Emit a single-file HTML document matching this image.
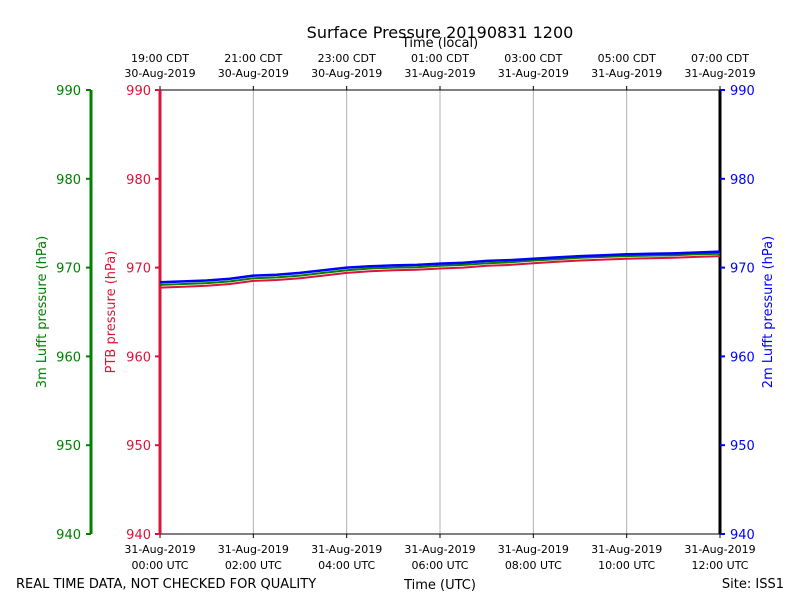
<!DOCTYPE html>
<html><head><meta charset="utf-8"><style>
body{margin:0;background:#fff;}
svg{display:block;font-family:"DejaVu Sans","Liberation Sans",sans-serif;}
</style></head><body>
<svg id="chart" width="800" height="600"></svg>
<script>
const hours=[0,0.5,1,1.5,2,2.5,3,3.5,4,4.5,5,5.5,6,6.5,7,7.5,8,8.5,9,9.5,10,10.5,11,11.5,12];
const ptbValues=[967.75,967.85,967.95,968.15,968.5,968.6,968.8,969.1,969.4,969.6,969.7,969.75,969.9,970.0,970.2,970.3,970.5,970.65,970.8,970.9,971.0,971.05,971.1,971.2,971.3];
const lufft3mValues=[968.05,968.15,968.25,968.45,968.8,968.9,969.1,969.4,969.7,969.9,970.0,970.05,970.2,970.3,970.5,970.6,970.8,970.95,971.1,971.2,971.3,971.35,971.4,971.5,971.55];
const lufft2mValues=[968.35,968.45,968.55,968.75,969.1,969.2,969.4,969.7,970.0,970.15,970.25,970.3,970.45,970.55,970.75,970.85,971.0,971.15,971.3,971.4,971.5,971.55,971.6,971.7,971.8];
const yTicks=[940,950,960,970,980,990];
const xTickHours=[0,2,4,6,8,10,12];
const utcLabels=[["31-Aug-2019","00:00 UTC"],["31-Aug-2019","02:00 UTC"],["31-Aug-2019","04:00 UTC"],["31-Aug-2019","06:00 UTC"],["31-Aug-2019","08:00 UTC"],["31-Aug-2019","10:00 UTC"],["31-Aug-2019","12:00 UTC"]];
const localLabels=[["19:00 CDT","30-Aug-2019"],["21:00 CDT","30-Aug-2019"],["23:00 CDT","30-Aug-2019"],["01:00 CDT","31-Aug-2019"],["03:00 CDT","31-Aug-2019"],["05:00 CDT","31-Aug-2019"],["07:00 CDT","31-Aug-2019"]];

const L=160,R=720,T=90,B=534;
const xs=h=>L+(h/12)*(R-L);
const ys=v=>B-(v-940)/50*(B-T);
const svg=document.getElementById('chart');
const NS='http://www.w3.org/2000/svg';
function mk(tag,attrs,parent){const e=document.createElementNS(NS,tag);for(const k in attrs)e.setAttribute(k,attrs[k]);(parent||svg).appendChild(e);return e;}
function txt(x,y,s,size,fill,anchor,name,rot){const e=mk('text',{x:x,y:y,'font-size':size,fill:fill,'text-anchor':anchor||'middle'});if(rot)e.setAttribute('transform',`rotate(-90 ${x} ${y})`);e.textContent=s;


return e;}

txt(440,38,'Surface Pressure 20190831 1200',16,'#000','middle','chart-title');
txt(440,47,'Time (local)',13,'#000','middle','top-axis-title');
txt(440,589,'Time (UTC)',13,'#000','middle','x-axis-title');
txt(16,588,'REAL TIME DATA, NOT CHECKED FOR QUALITY',13,'#000','start','quality-note');
txt(784,588,'Site: ISS1',13,'#000','end','site-label');

// grid
xTickHours.forEach((h,i)=>{
  if(i>0&&i<xTickHours.length-1){const g=mk('line',{x1:xs(h),x2:xs(h),y1:T,y2:B,stroke:'#b0b0b0','stroke-width':1});
  
  }
  const t1=mk('line',{x1:xs(h),x2:xs(h),y1:B,y2:B+4,stroke:'#000'});
  
  
  const t2=mk('line',{x1:xs(h),x2:xs(h),y1:T,y2:T-4,stroke:'#000'});
  
  
  txt(xs(h),553,utcLabels[i][0],11,'#000','middle','x-tick-label');
  txt(xs(h),569,utcLabels[i][1],11,'#000','middle','x-tick-label');
  txt(xs(h),62,localLabels[i][0],11,'#000','middle','top-tick-label');
  txt(xs(h),77,localLabels[i][1],11,'#000','middle','top-tick-label');
});
// frame
const fr=mk('rect',{x:L,y:T,width:R-L,height:B-T,fill:'none',stroke:'#000','stroke-width':1});


// axes spines
const sp1=mk('line',{x1:L,x2:L,y1:T,y2:B,stroke:'crimson','stroke-width':3});


const sp2=mk('line',{x1:R,x2:R,y1:T,y2:B,stroke:'#000','stroke-width':3});


const sp3=mk('line',{x1:91,x2:91,y1:T,y2:B,stroke:'green','stroke-width':3});


yTicks.forEach(v=>{
  const y=ys(v);
  [[L,L-5,'crimson'],[R,R+5,'blue'],[91,86,'green']].forEach(([a,b,c])=>{const t=mk('line',{x1:a,x2:b,y1:y,y2:y,stroke:c,'stroke-width':2});
  
  });
  txt(151,y+5,String(v),13,'crimson','end','ptb-tick-label');
  txt(81,y+5,String(v),13,'green','end','lufft3m-tick-label');
  txt(730,y+5,String(v),13,'blue','start','lufft2m-tick-label');
});
txt(46,312,'3m Lufft pressure (hPa)',13,'green','middle','lufft3m-axis-title',true);
txt(115,312,'PTB pressure (hPa)',13,'crimson','middle','ptb-axis-title',true);
txt(772,312,'2m Lufft pressure (hPa)',13,'blue','middle','lufft2m-axis-title',true);

function series(vals,color,w,name){
  const d=vals.map((v,i)=>(i?'L':'M')+xs(hours[i]).toFixed(1)+','+ys(v).toFixed(1)).join(' ');
  const p=mk('path',{d:d,fill:'none',stroke:color,'stroke-width':w});
  
  
}
series(ptbValues,'crimson',2,'ptb-line');
series(lufft3mValues,'green',2,'lufft3m-line');
series(lufft2mValues,'blue',2.5,'lufft2m-line');
</script>
</body></html>
